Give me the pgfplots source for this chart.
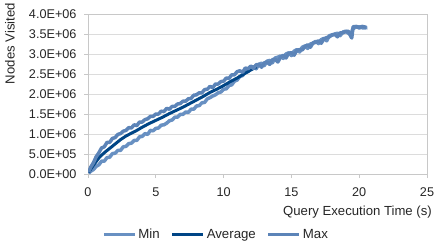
\documentclass[border=0pt]{standalone}
\usepackage{fontspec}
\setmainfont{Liberation Sans}
\usepackage{pgfplots}
\pgfplotsset{compat=1.18}
\definecolor{minc}{RGB}{104,144,194}
\definecolor{maxc}{RGB}{92,132,184}
\definecolor{avgc}{RGB}{0,69,134}
\definecolor{gridc}{RGB}{220,220,220}
\definecolor{axc}{RGB}{200,200,200}
\begin{document}
\begin{tikzpicture}[x=1bp,y=1bp]
\useasboundingbox (0,0) rectangle (436,246);
\begin{axis}[
  at={(88bp,72bp)}, anchor=south west, scale only axis,
  width=339bp, height=160bp,
  xmin=0, xmax=25, ymin=0, ymax=4,
  xtick={0,5,...,25}, ytick={0,0.5,...,4},
  yticklabels={0.0E+00,5.0E+05,1.0E+06,1.5E+06,2.0E+06,2.5E+06,3.0E+06,3.5E+06,4.0E+06},
  ymajorgrids, major grid style={gridc, line width=0.9bp},
  axis line style={axc, line width=0.9bp},
  tick style={axc, line width=0.9bp},
  tick align=outside, major tick length=4bp, tick pos=left,
  ticklabel style={font=\fontsize{12.7}{14}\selectfont, text=black!85},
  xticklabel style={yshift=-6bp},
  yticklabel style={xshift=-4bp},
  /pgf/number format/assume math mode=true,
  xlabel={Query Execution Time (s)}, ylabel={Nodes Visited},
  xlabel style={at={(axis description cs:1.0147,-0.2375)}, anchor=east, inner sep=0pt, font=\fontsize{13.2}{15}\selectfont, text=black!85},
  ylabel style={at={(axis description cs:-0.230,1.069)}, anchor=east, rotate=0, inner sep=0pt, font=\fontsize{13.2}{15}\selectfont, text=black!85},
  legend style={at={(axis description cs:0.378,-0.38)}, anchor=center, draw=none, fill=none,
    font=\fontsize{13.3}{15}\selectfont, text=black!85, legend columns=3,
    /tikz/every even column/.append style={column sep=9bp}},
  legend image code/.code={\draw[#1,line width=3bp] (0bp,0bp) -- (31bp,0bp);},
]
\addplot[minc, line width=3.5bp, line join=round] coordinates {
(0.05,0.02) (0.2,0.07) (0.4,0.11) (0.6,0.19) (0.8,0.23) (1.0,0.32) (1.2,0.32) (1.4,0.41)
(1.6,0.42) (1.8,0.51) (2.0,0.52) (2.2,0.59) (2.4,0.59) (2.6,0.68) (2.8,0.69) (3.0,0.76)
(3.2,0.77) (3.4,0.84) (3.6,0.84) (3.8,0.93) (4.0,0.94) (4.2,1.01) (4.4,0.99) (4.6,1.09)
(4.8,1.08) (5.0,1.14) (5.2,1.15) (5.4,1.22) (5.6,1.23) (5.8,1.27) (6.0,1.33) (6.2,1.35)
(6.4,1.42) (6.6,1.42) (6.8,1.49) (7.0,1.49) (7.2,1.55) (7.4,1.54) (7.6,1.62) (7.8,1.62)
(8.0,1.70) (8.2,1.71) (8.4,1.78) (8.6,1.79) (8.8,1.88) (9.0,1.91) (9.2,1.95) (9.4,1.98)
(9.6,2.03) (9.8,2.05) (10.0,2.12) (10.2,2.13) (10.4,2.21) (10.6,2.23) (10.8,2.32) (11.0,2.35)
(11.2,2.44) (11.4,2.46) (11.6,2.55) (11.8,2.56) (12.0,2.64) (12.2,2.69) (12.4,2.63) (12.6,2.74)
(12.8,2.77) (13.0,2.71) (13.2,2.82) (13.4,2.84) (13.6,2.78) (13.8,2.90) (14.0,2.92) (14.2,2.95)
(14.4,2.89) (14.6,3.00) (14.8,3.03) (15.0,2.96) (15.2,3.07) (15.4,3.11) (15.6,3.05) (15.8,3.17)
(16.0,3.20) (16.2,3.14) (16.4,3.25) (16.6,3.27) (16.8,3.32) (17.0,3.26) (17.2,3.36) (17.4,3.39)
(17.6,3.33) (17.8,3.46) (18.0,3.47) (18.2,3.50) (18.4,3.52) (18.6,3.46) (18.8,3.55) (19.0,3.57)
(19.2,3.52) (19.4,3.48) (19.5,3.61) (19.7,3.67) (20.0,3.68) (20.3,3.65) (20.6,3.66)
};
\addlegendentry{Min}
\addplot[avgc, line width=3bp, line join=round] coordinates {
(0.05,0.04) (0.2,0.12) (0.4,0.22) (0.6,0.31) (0.8,0.40) (1.0,0.47) (1.3,0.56) (1.6,0.64)
(2.0,0.75) (2.4,0.86) (2.8,0.95) (3.2,1.02) (3.6,1.09) (4.0,1.17) (4.5,1.26) (5.0,1.34)
(5.5,1.42) (6.0,1.51) (6.5,1.59) (7.0,1.67) (7.5,1.76) (8.0,1.85) (8.5,1.94) (9.0,2.04)
(9.5,2.12) (10.0,2.21) (10.5,2.31) (11.0,2.40) (11.5,2.50) (12.0,2.60) (12.44,2.68)
};
\addlegendentry{Average}
\addplot[maxc, line width=3.5bp, line join=round] coordinates {
(0.05,0.05) (0.2,0.17) (0.4,0.28) (0.6,0.43) (0.8,0.53) (1.0,0.65) (1.2,0.68) (1.4,0.79)
(1.6,0.79) (1.8,0.89) (2.0,0.91) (2.2,0.99) (2.4,1.01) (2.6,1.07) (2.8,1.09) (3.0,1.16)
(3.2,1.15) (3.4,1.23) (3.6,1.21) (3.8,1.30) (4.0,1.30) (4.2,1.36) (4.4,1.38) (4.6,1.44)
(4.8,1.44) (5.0,1.50) (5.2,1.50) (5.4,1.57) (5.6,1.56) (5.8,1.64) (6.0,1.62) (6.2,1.69)
(6.4,1.69) (6.6,1.75) (6.8,1.76) (7.0,1.82) (7.2,1.82) (7.4,1.88) (7.6,1.89) (7.8,1.97)
(8.0,1.98) (8.2,2.03) (8.4,2.03) (8.6,2.11) (8.8,2.12) (9.0,2.19) (9.2,2.16) (9.4,2.25)
(9.6,2.25) (9.8,2.31) (10.0,2.32) (10.2,2.40) (10.4,2.39) (10.6,2.48) (10.8,2.48) (11.0,2.56)
(11.2,2.58) (11.4,2.54) (11.6,2.65) (11.8,2.63) (12.0,2.70) (12.2,2.64) (12.4,2.73) (12.6,2.74)
(12.8,2.67) (13.0,2.78) (13.2,2.80) (13.4,2.74) (13.6,2.86) (13.8,2.87) (14.0,2.80) (14.2,2.92)
(14.4,2.97) (14.6,2.90) (14.8,3.02) (15.0,3.03) (15.2,2.97) (15.4,3.09) (15.6,3.11) (15.8,3.10)
(16.0,3.19) (16.2,3.23) (16.4,3.17) (16.6,3.28) (16.8,3.29) (17.0,3.33) (17.2,3.27) (17.4,3.38)
(17.6,3.41) (17.8,3.43) (18.0,3.48) (18.2,3.49) (18.4,3.43) (18.6,3.53) (18.8,3.53) (19.0,3.56)
(19.2,3.57) (19.35,3.46) (19.45,3.40) (19.55,3.68) (19.8,3.69) (20.0,3.65) (20.2,3.69) (20.5,3.67)
};
\addlegendentry{Max}
\end{axis}
\end{tikzpicture}
\end{document}
